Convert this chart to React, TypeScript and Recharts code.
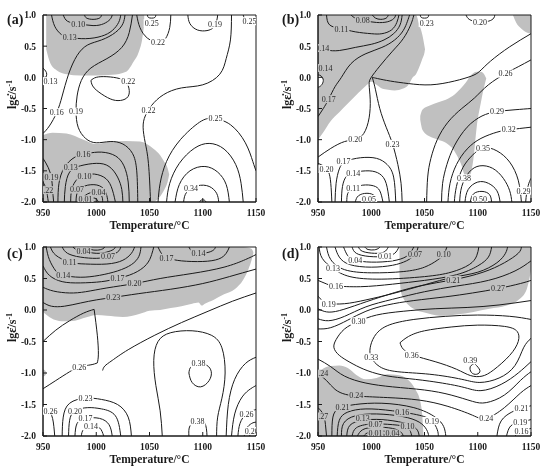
import { ComposedChart, Line, Area, Scatter, XAxis, YAxis, ReferenceArea } from 'recharts'

type Pt = [number, number]
type Band = [number, number, number]
type Tag = [number, number, string]

const tempTicks = [950, 1000, 1050, 1100, 1150]
const rateTicks = [-2, -1.5, -1, -0.5, 0, 0.5, 1]

// (a) instability shading and contour lines (temperature, lg strain rate)
const aGray: Band[][] = [
  [[953, 0.45, 1.0], [957, 0.22, 1.0], [963, 0.11, 1.0], [972, 0.05, 1.0], [985, 0.03, 1.0], [1000, 0.03, 1.0], [1015, 0.04, 1.0], [1028, 0.09, 1.0], [1035, 0.25, 1.0], [1040, 0.41, 1.0], [1043, 0.6, 1.0], [1045, 0.85, 1.0]],
  [[950, -2, -0.93], [959, -2, -0.89], [972, -2, -0.9], [988, -2, -1.0], [1000, -2, -1.07], [1013, -2, -1.03], [1028, -2, -1.02], [1041, -2, -1.03], [1054, -1.99, -1.15], [1060, -1.91, -1.25], [1064, -1.8, -1.36], [1067, -1.68, -1.46], [1068.5, -1.56, -1.56]],
]
const aLines: Pt[][] = [
  [[989, 1.0], [991, 0.95], [997, 0.93], [1003, 0.95], [1005, 1.0]],
  [[969, 1.0], [973, 0.9], [983, 0.86], [997, 0.83], [1007, 0.86], [1013, 0.93], [1015, 1.0]],
  [[958, 1.0], [961, 0.82], [967, 0.69], [975, 0.64], [990, 0.62], [1005, 0.66], [1015, 0.75], [1021, 0.88], [1023, 1.0]],
  [[1027, 1.0], [1025, 0.86], [1018, 0.72], [1005, 0.6], [992, 0.52], [982, 0.35], [974, 0.05], [968, -0.3], [963, -0.56], [956, -0.78], [950, -0.9]],
  [[1034, 1.0], [1031, 0.72], [1024, 0.48], [1010, 0.3], [995, 0.15], [986, -0.05], [982, -0.3], [981, -0.55], [983, -0.8], [990, -0.98], [1000, -1.05], [1013, -1.03], [1025, -1.07], [1034, -1.22], [1038, -1.5], [1039, -2.0]],
  [[1127, 1.0], [1126, 0.6], [1122, 0.3], [1116, 0.05], [1100, -0.12], [1080, -0.17], [1063, -0.28], [1052, -0.45], [1046, -0.62], [1044, -0.8], [1046, -1.05], [1049, -1.38], [1051, -2.0]],
  [[995, -0.05], [1000, 0.0], [1010, 0.01], [1022, -0.02], [1029, -0.1], [1031, -0.25], [1027, -0.35], [1018, -0.37], [1008, -0.3], [998, -0.17], [995, -0.05]],
  [[1038, 1.0], [1041, 0.8], [1048, 0.63], [1058, 0.56], [1065, 0.62], [1069, 0.8], [1070, 1.0]],
  [[1048, 1.0], [1049, 0.96], [1052, 0.95], [1055, 0.96], [1056, 1.0]],
  [[1086, 1.0], [1088, 0.86], [1095, 0.76], [1104, 0.75], [1110, 0.8], [1113, 0.9], [1114, 1.0]],
  [[1138, 1.0], [1140, 0.93], [1145, 0.9], [1150, 0.89]],
  [[950, 0.15], [952.5, 0.1], [953.5, 0.05], [952.5, 0.0], [950, -0.03]],
  [[964, -2.0], [965, -1.7], [970, -1.45], [980, -1.28], [992, -1.22], [1005, -1.2], [1018, -1.26], [1026, -1.42], [1030, -1.68], [1031, -2.0]],
  [[970, -2.0], [971, -1.75], [975, -1.52], [985, -1.42], [1000, -1.38], [1012, -1.43], [1020, -1.6], [1024, -1.8], [1025, -2.0]],
  [[976, -2.0], [977, -1.8], [983, -1.62], [995, -1.55], [1007, -1.6], [1014, -1.75], [1018, -2.0]],
  [[981, -2.0], [983, -1.82], [992, -1.73], [1003, -1.74], [1009, -1.85], [1011, -2.0]],
  [[986, -2.0], [990, -1.89], [999, -1.84], [1005, -1.9], [1006, -2.0]],
  [[991, -2.0], [994, -1.95], [999, -1.94], [1002, -2.0]],
  [[950, -1.3], [955, -1.45], [958, -1.62], [959, -1.8], [960, -2.0]],
  [[950, -1.68], [953, -1.8], [955, -2.0]],
  [[1058, -2.0], [1060, -1.7], [1066, -1.35], [1079, -1.0], [1097, -0.72], [1110, -0.66], [1126, -0.76], [1140, -1.05], [1147, -1.35], [1150, -1.5]],
  [[1066, -2.0], [1069, -1.7], [1078, -1.38], [1092, -1.14], [1106, -1.06], [1120, -1.15], [1131, -1.4], [1136, -1.7], [1138, -2.0]],
  [[1074, -2.0], [1078, -1.72], [1088, -1.5], [1102, -1.43], [1114, -1.52], [1122, -1.72], [1125, -2.0]],
  [[1082, -2.0], [1085, -1.84], [1095, -1.74], [1106, -1.75], [1113, -1.86], [1115, -2.0]],
  [[1097, -2.0], [1098.5, -1.97], [1101.5, -1.97], [1103, -2.0]],
]
const aTags: Tag[] = [
  [963, -0.56, '0.16'], [981, -0.55, '0.19'], [1030, -0.07, '0.22'], [1058, 0.56, '0.22'], [1052, 0.87, '0.25'],
  [1111.5, 0.85, '0.19'], [1144, 0.9, '0.25'], [1049, -0.53, '0.22'], [1112, -0.66, '0.25'], [1089, -1.78, '0.34'], [957, -0.06, '0.13'],
]
const aTagsGray: Tag[] = [
  [983, 0.86, '0.10'], [975, 0.64, '0.13'], [988, -1.23, '0.16'], [976, -1.44, '0.13'], [989, -1.58, '0.10'],
  [982, -1.8, '0.07'], [1002, -1.84, '0.04'], [990, -1.96, '0.01'], [958, -1.6, '0.19'], [953, -1.81, '0.22'],
]

// (b)
const bGray: Band[][] = [
  [[950, -1.0, 1.0], [955, -0.88, 1.0], [962, -0.7, 1.0], [970, -0.56, 1.0], [978, -0.42, 1.0], [985, -0.3, 1.0], [991, -0.2, 1.0], [996, -0.12, 1.0], [1000, -0.07, 1.0], [1005, -0.12, 1.0], [1010, -0.18, 1.0], [1016, -0.2, 1.0], [1022, -0.21, 1.0], [1030, -0.18, 1.0], [1035, -0.12, 1.0], [1039, 0.0, 1.0], [1042, 0.05, 1.0], [1045, 0.16, 0.85], [1048, 0.3, 0.68], [1050, 0.4, 0.5], [1050.5, 0.45, 0.45]],
  [[1133, 1.0, 1.0], [1136, 0.88, 1.0], [1141, 0.78, 1.0], [1146, 0.72, 1.0], [1150, 0.7, 1.0]],
  [[1046, -0.68, -0.62], [1048, -0.84, -0.52], [1055, -0.95, -0.45], [1063, -1.0, -0.4], [1070, -1.05, -0.36], [1078, -1.18, -0.28], [1084, -1.38, -0.18], [1089, -1.6, -0.08], [1093, -1.56, 0.02], [1096, -1.3, 0.07], [1099, -0.8, 0.09], [1103, -0.4, 0.09], [1106, -0.15, 0.05], [1108, -0.02, -0.02]],
]
const bWhite: Band[][] = [
  [[950, -0.16, 0.03], [952, -0.15, 0.02], [954, -0.11, -0.02], [955.5, -0.06, -0.06]],
]
const bLines: Pt[][] = [
  [[1001, 1.0], [1004, 0.95], [1009, 0.93], [1014, 0.95], [1016, 1.0]],
  [[981, 1.0], [985, 0.95], [993, 0.91], [1005, 0.88], [1015, 0.89], [1021, 0.94], [1023, 1.0]],
  [[958, 1.0], [961, 0.84], [972, 0.78], [985, 0.73], [1000, 0.7], [1010, 0.7], [1019, 0.76], [1024, 0.88], [1026, 1.0]],
  [[950, 0.5], [958, 0.44], [970, 0.43], [985, 0.48], [1000, 0.53], [1012, 0.6], [1021, 0.7], [1027, 0.84], [1029, 1.0]],
  [[950, -0.63], [955, -0.5], [960, -0.35], [966, -0.15], [972, 0.0], [981, 0.22], [995, 0.38], [1010, 0.48], [1022, 0.6], [1030, 0.75], [1034, 0.9], [1036, 1.0]],
  [[950, -1.28], [962, -1.14], [975, -1.03], [985, -1.0], [993, -0.9], [998, -0.65], [999, -0.35], [998, -0.12], [1000, 0.0], [1008, 0.18], [1020, 0.42], [1030, 0.62], [1037, 0.84], [1040, 1.0]],
  [[1150, 0.7], [1130, 0.49], [1112, 0.26], [1102, 0.1], [1094, 0.02], [1078, -0.06], [1056, -0.12], [1035, -0.1], [1018, -0.06], [1006, -0.02], [1001, 0.0]],
  [[1001, 0.0], [1004, -0.2], [1008, -0.5], [1014, -0.8], [1020, -1.07], [1025, -1.4], [1028, -1.7], [1029, -2.0]],
  [[1150, 0.28], [1138, 0.17], [1126, 0.06], [1110, -0.12], [1097, -0.33], [1085, -0.5], [1072, -0.72], [1062, -1.0], [1056, -1.3], [1053, -1.6], [1052, -2.0]],
  [[1150, -0.5], [1135, -0.52], [1118, -0.55], [1104, -0.62], [1090, -0.8], [1078, -1.1], [1071, -1.4], [1067, -1.7], [1066, -2.0]],
  [[1150, -0.8], [1130, -0.84], [1118, -0.88], [1103, -0.98], [1090, -1.15], [1080, -1.4], [1074, -1.7], [1072, -2.0]],
  [[1078, -2.0], [1080, -1.75], [1086, -1.45], [1095, -1.25], [1105, -1.13], [1118, -1.18], [1130, -1.36], [1138, -1.65], [1141, -2.0]],
  [[1083, -2.0], [1085, -1.75], [1092, -1.52], [1102, -1.42], [1114, -1.46], [1124, -1.62], [1130, -1.82], [1132, -2.0]],
  [[1088, -2.0], [1091, -1.8], [1100, -1.68], [1110, -1.7], [1118, -1.82], [1121, -2.0]],
  [[1093, -2.0], [1096, -1.87], [1104, -1.83], [1111, -1.88], [1113, -2.0]],
  [[1097, -2.0], [1100, -1.94], [1105, -1.94], [1107, -2.0]],
  [[1145, -2.0], [1146, -1.85], [1148, -1.7], [1150, -1.62]],
  [[1046, 1.0], [1047, 0.96], [1050, 0.95], [1053, 0.96], [1054, 1.0]],
  [[1089, 1.0], [1092, 0.93], [1100, 0.89], [1110, 0.9], [1115, 0.95], [1116, 1.0]],
  [[950, 0.04], [953, 0.02], [955, -0.05], [953, -0.13], [950, -0.16]],
  [[966, -2.0], [967, -1.7], [970, -1.47], [976, -1.35], [990, -1.29], [1005, -1.3], [1015, -1.4], [1021, -1.6], [1023, -2.0]],
  [[972, -2.0], [973, -1.75], [977, -1.58], [985, -1.52], [998, -1.5], [1008, -1.55], [1014, -1.7], [1017, -2.0]],
  [[977, -2.0], [978, -1.86], [983, -1.78], [992, -1.73], [1002, -1.74], [1008, -1.82], [1011, -2.0]],
  [[985, -2.0], [988, -1.9], [996, -1.86], [1003, -1.9], [1005, -2.0]],
  [[992, -2.0], [995, -1.96], [1000, -1.95], [1002, -2.0]],
  [[950, -1.38], [956, -1.43], [960, -1.52], [962, -1.7], [963, -2.0]],
]
const bTags: Tag[] = [
  [985, -1.0, '0.20'], [1020, -1.07, '0.23'], [1052, 0.87, '0.23'], [1102, 0.88, '0.20'], [1126, 0.06, '0.26'],
  [1118, -0.55, '0.29'], [1129, -0.84, '0.32'], [1105, -1.13, '0.35'], [1087, -1.62, '0.38'], [1102, -1.95, '0.50'],
  [1143, -1.82, '0.29'], [974, -1.35, '0.17'], [983, -1.53, '0.14'], [983, -1.78, '0.11'], [998, -1.95, '0.05'], [958, -1.47, '0.20'],
]
const bTagsGray: Tag[] = [
  [992, 0.92, '0.08'], [972, 0.78, '0.11'], [954, 0.47, '0.14'], [957, 0.15, '0.14'], [960, -0.35, '0.17'],
]

// (c)
const cGray: Band[][] = [
  [[950, -0.03, 1.0], [955, -0.1, 1.0], [960, -0.15, 1.0], [970, -0.18, 1.0], [980, -0.17, 1.0], [990, -0.12, 1.0], [1000, -0.08, 1.0], [1010, -0.09, 1.0], [1025, -0.11, 1.0], [1041, -0.06, 1.0], [1050, -0.01, 1.0], [1060, 0.0, 1.0], [1070, 0.03, 1.0], [1080, 0.06, 1.0], [1090, 0.1, 1.0], [1096, 0.12, 1.0], [1099, 0.07, 1.0], [1102, 0.1, 1.0], [1110, 0.16, 1.0], [1120, 0.25, 1.0], [1130, 0.33, 1.0], [1138, 0.48, 1.0], [1143, 0.65, 0.99], [1146, 0.8, 0.97], [1147.5, 0.9, 0.92]],
  [[950, -1.06, -0.94], [952, -1.04, -0.96], [953.5, -1.0, -1.0]],
]
const cLines: Pt[][] = [
  [[992, 1.0], [995, 0.96], [1001, 0.95], [1006, 0.97], [1008, 1.0]],
  [[978, 1.0], [982, 0.95], [988, 0.93], [1000, 0.9], [1010, 0.92], [1016, 0.96], [1018, 1.0]],
  [[968, 1.0], [973, 0.9], [985, 0.84], [1000, 0.82], [1011, 0.85], [1020, 0.92], [1023, 1.0]],
  [[957, 1.0], [962, 0.87], [975, 0.76], [990, 0.73], [1010, 0.73], [1025, 0.79], [1033, 0.9], [1036, 1.0]],
  [[953, 1.0], [956, 0.8], [962, 0.62], [969, 0.55], [985, 0.52], [1003, 0.55], [1020, 0.62], [1033, 0.72], [1040, 0.85], [1042, 1.0]],
  [[950, 0.7], [956, 0.55], [968, 0.45], [985, 0.43], [1005, 0.45], [1020, 0.5], [1035, 0.58], [1047, 0.72], [1052, 0.88], [1054, 1.0]],
  [[1087, 1.0], [1090, 0.93], [1096, 0.9], [1104, 0.91], [1110, 0.95], [1112, 1.0]],
  [[1058, 1.0], [1062, 0.88], [1068, 0.82], [1080, 0.78], [1100, 0.77], [1115, 0.81], [1122, 0.9], [1125, 1.0]],
  [[950, 0.36], [960, 0.3], [975, 0.27], [990, 0.29], [1010, 0.35], [1036, 0.42], [1060, 0.5], [1090, 0.58], [1120, 0.68], [1140, 0.8], [1150, 0.88]],
  [[950, 0.12], [958, 0.06], [970, 0.06], [985, 0.11], [1000, 0.16], [1016, 0.2], [1040, 0.26], [1070, 0.33], [1100, 0.42], [1125, 0.53], [1150, 0.65]],
  [[950, -0.5], [962, -0.32], [975, -0.17], [988, -0.05], [998, 0.01]],
  [[950, -1.25], [962, -1.12], [975, -0.98], [985, -0.9], [995, -0.87], [1001, -0.84]],
  [[1001, -0.84], [1002, -0.7], [1001, -0.4], [998, 0.01]],
  [[1006, -0.96], [1008, -0.89], [1015, -0.8], [1030, -0.63], [1055, -0.4], [1080, -0.2], [1105, -0.02], [1128, 0.14], [1150, 0.27]],
  [[1087, -1.0], [1089, -0.9], [1096, -0.85], [1104, -0.88], [1108, -0.98], [1106, -1.12], [1098, -1.22], [1090, -1.15], [1087, -1.0]],
  [[1062, -2.0], [1060, -1.6], [1056, -1.2], [1054, -0.8], [1058, -0.5], [1070, -0.36], [1090, -0.33], [1108, -0.4], [1118, -0.6], [1121, -1.0], [1118, -1.4], [1114, -1.7], [1113, -2.0]],
  [[1087, -2.0], [1088, -1.84], [1095, -1.77], [1102, -1.8], [1104, -2.0]],
  [[1122, -2.0], [1124, -1.5], [1130, -1.1], [1140, -0.85], [1150, -0.75]],
  [[1127, -2.0], [1130, -1.65], [1137, -1.38], [1145, -1.25], [1150, -1.2]],
  [[1133, -2.0], [1135, -1.8], [1141, -1.65], [1150, -1.58]],
  [[1139, -2.0], [1141, -1.88], [1146, -1.8], [1150, -1.78]],
  [[1144, -2.0], [1146, -1.93], [1150, -1.9]],
  [[968, -2.0], [969, -1.7], [975, -1.48], [990, -1.4], [1005, -1.42], [1020, -1.5], [1030, -1.7], [1033, -2.0]],
  [[974, -2.0], [975, -1.75], [980, -1.6], [992, -1.55], [1005, -1.57], [1018, -1.68], [1023, -2.0]],
  [[980, -2.0], [982, -1.8], [990, -1.72], [1003, -1.72], [1012, -1.82], [1015, -2.0]],
  [[986, -2.0], [988, -1.9], [995, -1.85], [1003, -1.87], [1007, -2.0]],
  [[950, -1.55], [955, -1.6], [959, -1.72], [961, -2.0]],
]
const cTags: Tag[] = [
  [984, -0.9, '0.26'], [1096, -0.85, '0.38'], [1095, -1.77, '0.38'], [990, -1.4, '0.23'], [980, -1.6, '0.20'],
  [990, -1.72, '0.17'], [995, -1.85, '0.14'], [957, -1.6, '0.26'], [1141, -1.65, '0.26'], [1146, -1.92, '0.20'],
]
const cTagsGray: Tag[] = [
  [988, 0.93, '0.04'], [1011, 0.85, '0.07'], [975, 0.76, '0.11'], [969, 0.55, '0.14'], [1020, 0.5, '0.17'],
  [1036, 0.42, '0.20'], [1016, 0.2, '0.23'], [1066, 0.83, '0.17'], [1096, 0.9, '0.14'],
]

// (d)
const dGray: Band[][] = [
  [[1026.5, 0.55, 1.0], [1028, 0.28, 1.0], [1031, 0.16, 1.0], [1035, 0.08, 1.0], [1042, 0.0, 1.0], [1050, -0.04, 1.0], [1064, -0.09, 1.0], [1080, -0.07, 1.0], [1096, -0.03, 1.0], [1111, 0.02, 1.0], [1127, 0.07, 1.0], [1139, 0.17, 1.0], [1146, 0.33, 1.0], [1150, 0.62, 1.0]],
  [[950, -2, -1.02], [955, -2, -0.93], [962, -2, -0.89], [970, -2, -0.88], [978, -2, -0.92], [986, -2, -1.03], [995, -2, -1.1], [1005, -2, -1.08], [1015, -2, -1.02], [1025, -2, -1.03], [1034, -2, -1.1], [1041, -2, -1.25], [1046, -2, -1.45], [1048, -2, -1.7], [1049, -2, -1.98]],
]
const dLines: Pt[][] = [
  [[994, 1.0], [997, 0.96], [1003, 0.955], [1007, 0.98], [1008, 1.0]],
  [[988, 1.0], [992, 0.93], [1003, 0.9], [1012, 0.92], [1016, 1.0]],
  [[982, 1.0], [986, 0.9], [998, 0.85], [1013, 0.85], [1022, 0.9], [1026, 1.0]],
  [[974, 1.0], [978, 0.86], [985, 0.79], [1000, 0.76], [1020, 0.78], [1033, 0.85], [1038, 0.94], [1040, 1.0]],
  [[966, 1.0], [970, 0.84], [980, 0.72], [1000, 0.68], [1020, 0.71], [1033, 0.78], [1041, 0.88], [1044, 1.0]],
  [[958, 1.0], [962, 0.8], [975, 0.64], [1000, 0.59], [1030, 0.61], [1050, 0.68], [1062, 0.79], [1068, 0.88], [1071, 1.0]],
  [[951, 1.0], [954, 0.82], [964, 0.66], [980, 0.53], [1010, 0.49], [1050, 0.53], [1075, 0.6], [1092, 0.72], [1099, 0.86], [1101, 1.0]],
  [[950, 0.47], [960, 0.4], [967, 0.38], [990, 0.37], [1020, 0.41], [1050, 0.47], [1080, 0.56], [1100, 0.7], [1110, 0.84], [1113, 1.0]],
  [[950, 0.22], [955, 0.13], [960, 0.1], [975, 0.1], [995, 0.16], [1020, 0.26], [1050, 0.4], [1077, 0.52], [1100, 0.6], [1118, 0.75], [1126, 0.9], [1128, 1.0]],
  [[950, 0.02], [958, -0.03], [970, -0.01], [990, 0.1], [1015, 0.24], [1045, 0.38], [1077, 0.48], [1105, 0.6], [1125, 0.75], [1138, 0.9], [1141, 1.0]],
  [[950, -0.14], [960, -0.17], [975, -0.1], [995, 0.05], [1020, 0.17], [1050, 0.29], [1080, 0.38], [1110, 0.47], [1135, 0.62], [1150, 0.78]],
  [[950, -0.3], [962, -0.28], [978, -0.16], [995, -0.02], [1015, 0.08], [1040, 0.15], [1070, 0.21], [1095, 0.27], [1119, 0.34], [1140, 0.42], [1150, 0.47]],
  [[1150, 0.15], [1120, 0.08], [1090, 0.04], [1060, 0.02], [1030, -0.02], [1005, -0.08], [988, -0.18], [975, -0.3], [967, -0.47], [965, -0.6], [970, -0.72], [980, -0.83], [993, -0.94], [1010, -1.03], [1030, -1.08], [1055, -1.13], [1085, -1.22], [1103, -1.28], [1122, -1.18], [1138, -1.0], [1150, -0.82]],
  [[1150, -0.15], [1130, -0.1], [1100, -0.08], [1070, -0.1], [1040, -0.15], [1015, -0.25], [1003, -0.42], [999, -0.6], [1000, -0.75], [1008, -0.9], [1025, -0.98], [1055, -1.02], [1085, -1.1], [1102, -1.15], [1120, -1.08], [1135, -0.88], [1143, -0.6], [1150, -0.45]],
  [[1027, -0.52], [1035, -0.42], [1050, -0.33], [1075, -0.27], [1100, -0.24], [1125, -0.26], [1137, -0.34], [1138, -0.5], [1130, -0.72], [1115, -0.95], [1104, -1.05], [1093, -1.04], [1080, -0.94], [1060, -0.82], [1040, -0.72], [1030, -0.62], [1027, -0.52]],
  [[1097, -0.85], [1093, -0.9], [1094, -0.99], [1099, -1.02], [1102, -0.96], [1097, -0.85]],
  [[950, -0.78], [962, -0.9], [975, -1.05], [995, -1.16], [1020, -1.22], [1050, -1.27], [1075, -1.35], [1095, -1.45], [1108, -1.47], [1125, -1.35], [1140, -1.12], [1150, -0.98]],
  [[950, -1.01], [958, -1.12], [966, -1.26], [976, -1.34], [990, -1.37], [1015, -1.39], [1045, -1.43], [1072, -1.53], [1095, -1.67], [1108, -1.72], [1125, -1.55], [1140, -1.32], [1150, -1.2]],
  [[963, -2.0], [964, -1.7], [970, -1.56], [985, -1.5], [1010, -1.48], [1040, -1.55], [1060, -1.7], [1068, -1.85], [1070, -2.0]],
  [[968, -2.0], [970, -1.75], [978, -1.62], [995, -1.57], [1020, -1.6], [1045, -1.67], [1057, -1.76], [1062, -1.9], [1063, -2.0]],
  [[972, -2.0], [974, -1.8], [985, -1.68], [1005, -1.65], [1029, -1.69], [1045, -1.78], [1052, -1.9], [1054, -2.0]],
  [[977, -2.0], [980, -1.83], [992, -1.75], [1010, -1.74], [1030, -1.79], [1042, -1.88], [1045, -2.0]],
  [[982, -2.0], [986, -1.87], [1000, -1.81], [1020, -1.82], [1034, -1.87], [1038, -2.0]],
  [[987, -2.0], [992, -1.9], [1004, -1.86], [1020, -1.88], [1028, -1.94], [1030, -2.0]],
  [[993, -2.0], [998, -1.94], [1010, -1.92], [1019, -1.95], [1022, -2.0]],
  [[999, -2.0], [1003, -1.97], [1010, -1.965], [1014, -2.0]],
  [[950, -1.55], [955, -1.66], [957, -1.82], [958, -2.0]],
  [[1118, -2.0], [1122, -1.76], [1132, -1.62], [1141, -1.56], [1150, -1.52]],
  [[1127, -2.0], [1131, -1.84], [1140, -1.78], [1150, -1.74]],
  [[1135, -2.0], [1139, -1.94], [1145, -1.9], [1150, -1.88]],
]
const dTags: Tag[] = [
  [964, 0.66, '0.13'], [967, 0.38, '0.16'], [960, 0.1, '0.19'], [985, 0.79, '0.04'], [1013, 0.85, '0.01'],
  [988, -0.18, '0.30'], [1000, -0.75, '0.33'], [1038, -0.71, '0.36'], [1093, -0.8, '0.39'],
  [1057, -1.76, '0.19'], [1108, -1.72, '0.24'], [1141, -1.56, '0.21'], [1140, -1.78, '0.19'], [1141, -1.92, '0.16'],
]
const dTagsGray: Tag[] = [
  [1041, 0.88, '0.07'], [1068, 0.88, '0.10'], [1077, 0.48, '0.21'], [1119, 0.34, '0.27'],
  [953, -1.01, '0.24'], [986, -1.36, '0.24'], [973, -1.54, '0.21'], [953, -1.69, '0.27'], [992, -1.72, '0.13'],
  [1029, -1.63, '0.16'], [1004, -1.81, '0.07'], [1034, -1.85, '0.10'], [1004, -1.96, '0.01'], [1020, -1.96, '0.04'],
]

const SERIF = '"Liberation Serif", "Times New Roman", serif'
const SHADE = '#c0c0c0'
const INK = '#1a1a1a'

const toPts = (pts: Pt[]) => pts.map(([t, s]) => ({ t, s }))
const toBand = (b: Band[]) => b.map(([t, lo, hi]) => ({ t, lo, hi }))
const toTags = (tags: Tag[]) => tags.map(([t, s, txt]) => ({ t, s, txt }))

function tagShape(bg: string) {
  return (p: any) => (
    <g>
      <rect x={p.cx - 8} y={p.cy - 4} width={16} height={8} fill={bg} />
      <text x={p.cx} y={p.cy + 2.8} textAnchor="middle" fontSize={8} fontFamily={SERIF} fill="#2a2a2a">
        {p.payload.txt}
      </text>
    </g>
  )
}

const xTitle = (props: any) => {
  const vb = props.viewBox
  return (
    <text x={vb.x + vb.width / 2} y={vb.y + 27} textAnchor="middle" fontSize={11.5} fontWeight="bold" fontFamily={SERIF} fill={INK}>
      Temperature/°C
    </text>
  )
}

function yTitle(tag: string) {
  return (props: any) => {
    const vb = props.viewBox
    const cy = vb.y + vb.height / 2 - 14
    return (
      <g>
        <text transform={`translate(${vb.x + 8},${cy}) rotate(-90)`} textAnchor="middle" fontSize={12} fontWeight="bold" fontFamily={SERIF} fill={INK}>
          lgε̇/s<tspan dy={-4} fontSize={8}>-1</tspan>
        </text>
        <text x={7} y={24} fontSize={14} fontWeight="bold" fontFamily={SERIF} fill={INK}>{tag}</text>
      </g>
    )
  }
}

type PanelProps = {
  tag: string
  top: number
  gray: Band[][]
  white?: Band[][]
  lines: Pt[][]
  tags: Tag[]
  tagsGray: Tag[]
}

function Panel({ tag, top, gray, white = [], lines, tags, tagsGray }: PanelProps) {
  const tickStyle = { fontSize: 9.5, fontWeight: 'bold', fill: INK, fontFamily: SERIF }
  return (
    <ComposedChart width={275} height={234} margin={{ top, right: 19, bottom: 0, left: 8 }}>
      <XAxis
        type="number" dataKey="t" domain={[950, 1150]} ticks={tempTicks} allowDataOverflow
        height={32} tickSize={-4} tickMargin={11} tick={tickStyle}
        axisLine={{ stroke: INK }} tickLine={{ stroke: INK }} label={xTitle}
      />
      <YAxis
        type="number" dataKey="s" domain={[-2, 1]} ticks={rateTicks} allowDataOverflow
        width={35} tickSize={-4} tickMargin={11} tick={tickStyle} tickFormatter={(v: number) => v.toFixed(1)}
        axisLine={{ stroke: INK }} tickLine={{ stroke: INK }} label={yTitle(tag)}
      />
      {gray.map((b, i) => (
        <Area key={'g' + i} data={toBand(b)} dataKey={(d: any) => [d.lo, d.hi]} type="monotone"
          fill={SHADE} fillOpacity={1} stroke="none" isAnimationActive={false} activeDot={false} />
      ))}
      {white.map((b, i) => (
        <Area key={'w' + i} data={toBand(b)} dataKey={(d: any) => [d.lo, d.hi]} type="monotone"
          fill="#fff" fillOpacity={1} stroke="none" isAnimationActive={false} activeDot={false} />
      ))}
      {lines.map((pts, i) => (
        <Line key={'l' + i} data={toPts(pts)} dataKey="s" type="natural" stroke={INK} strokeWidth={1}
          dot={false} activeDot={false} isAnimationActive={false} />
      ))}
      <Scatter data={toTags(tags)} dataKey="s" shape={tagShape('#ffffff')} isAnimationActive={false} />
      <Scatter data={toTags(tagsGray)} dataKey="s" shape={tagShape(SHADE)} isAnimationActive={false} />
      <ReferenceArea x1={950} x2={1150} y1={-2} y2={1} fill="none" stroke={INK} strokeWidth={1} />
    </ComposedChart>
  )
}

export default function App() {
  return (
    <div style={{ position: 'absolute', left: 0, top: 0, width: 550, height: 468, willChange: 'transform' }}>
      <div style={{ position: 'absolute', left: 0, top: 0 }}>
        <Panel tag="(a)" top={15} gray={aGray} lines={aLines} tags={aTags} tagsGray={aTagsGray} />
      </div>
      <div style={{ position: 'absolute', left: 275, top: 0 }}>
        <Panel tag="(b)" top={15} gray={bGray} white={bWhite} lines={bLines} tags={bTags} tagsGray={bTagsGray} />
      </div>
      <div style={{ position: 'absolute', left: 0, top: 234 }}>
        <Panel tag="(c)" top={13} gray={cGray} lines={cLines} tags={cTags} tagsGray={cTagsGray} />
      </div>
      <div style={{ position: 'absolute', left: 275, top: 234 }}>
        <Panel tag="(d)" top={13} gray={dGray} lines={dLines} tags={dTags} tagsGray={dTagsGray} />
      </div>
    </div>
  )
}
